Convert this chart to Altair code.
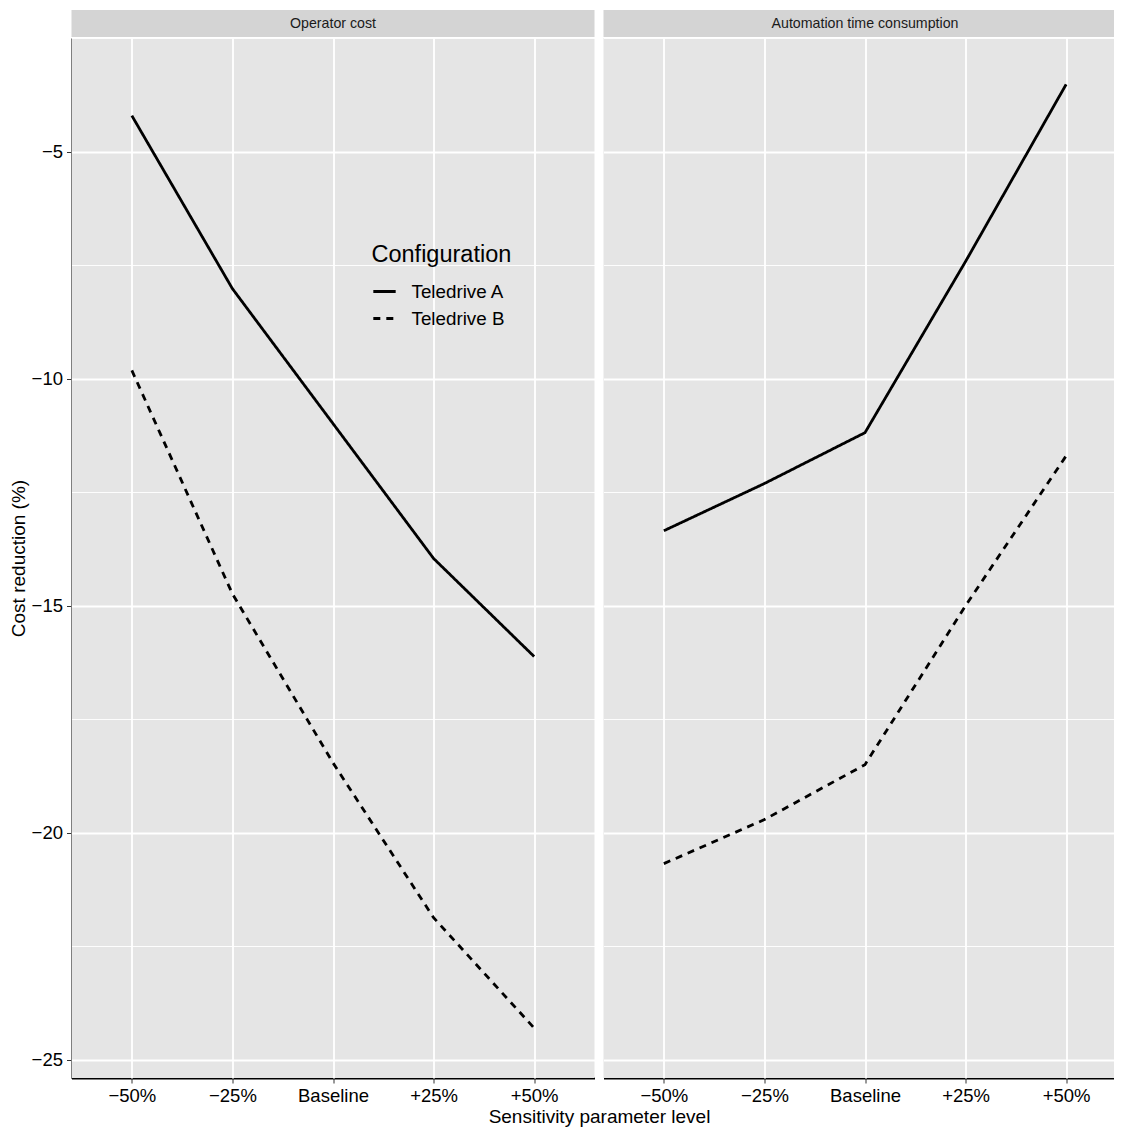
import altair as alt
import pandas as pd

panels = ["Operator cost", "Automation time consumption"]
levels = ["−50%", "−25%", "Baseline", "+25%", "+50%"]
configs = ["Teledrive A", "Teledrive B"]
op_a = [-4.21, -8.02, -10.99, -13.96, -16.12]
op_b = [-9.82, -14.74, -18.46, -21.87, -24.30]
au_a = [-13.35, -12.31, -11.19, -7.42, -3.52]
au_b = [-20.68, -19.71, -18.50, -15.00, -11.70]
y_ticks = [-2.5, -5, -7.5, -10, -12.5, -15, -17.5, -20, -22.5, -25]

rows = []
for panel, series in zip(panels, [(op_a, op_b), (au_a, au_b)]):
    for cfg, vals in zip(configs, series):
        for lvl, v in zip(levels, vals):
            rows.append({"panel": panel, "config": cfg, "level": lvl, "value": v})
df = pd.DataFrame(rows)

FONT = "Liberation Sans"

x_enc = alt.X("level:N", sort=levels,
              scale=alt.Scale(type="point", padding=0.6),
              axis=alt.Axis(title=None, labelFontSize=18.5, labelPadding=3,
                            labelAlign="center", labelBaseline="top",
                            tickSize=5, tickColor="#333333",
                            domainColor="black", domainWidth=1.8,
                            grid=True, gridColor="white", gridWidth=1.8, labelAngle=0))
y_enc = alt.Y("value:Q",
              scale=alt.Scale(domain=[-25.4, -2.5], nice=False, zero=False),
              axis=alt.Axis(title="Cost reduction (%)", values=y_ticks,
                            titleFontSize=19, titleFontWeight="normal", titlePadding=3,
                            labelFontSize=18.5, labelPadding=4,
                            labelExpr="datum.value % 5 === 0 ? replace(datum.label, '-', '\u2212') : ''",
                            tickSize=5, tickColor="#333333",
                            tickOpacity={"condition": {"test": "datum.value % 5 === 0", "value": 1}, "value": 0},
                            domainColor="black", domainWidth=1.8,
                            gridColor="white",
                            gridWidth={"condition": {"test": "datum.value % 5 === 0", "value": 1.8}, "value": 0.9}))

one_row = "datum.level === 'Baseline' && datum.config === 'Teledrive A'"

strip = alt.Chart().mark_rect(color="#D4D4D4").encode(
    x=alt.value(0), x2=alt.value("width"),
    y=alt.value(-28), y2=alt.value(-1),
).transform_filter(one_row)

strip_text = alt.Chart().mark_text(fontSize=14.2, color="#1A1A1A", font=FONT,
                                   baseline="middle", align="center").encode(
    x=alt.X("level:N", sort=levels, scale=alt.Scale(type="point", padding=0.6)),
    y=alt.value(-14),
    text="panel:N",
).transform_filter(one_row)

lines = alt.Chart().mark_line(strokeWidth=2.8, color="black").encode(
    x=x_enc,
    y=y_enc,
    strokeDash=alt.StrokeDash("config:N",
                              scale=alt.Scale(domain=configs, range=[[1, 0], [7, 6]]),
                              legend=alt.Legend(title="Configuration", orient="none",
                                                legendX=300, legendY=205,
                                                titleFontSize=23.5, titleFontWeight="normal",
                                                titleColor="black", titlePadding=12,
                                                labelFontSize=18.8, labelColor="black",
                                                labelOffset=14, rowPadding=4,
                                                symbolType="stroke", symbolSize=500,
                                                symbolStrokeWidth=2.8,
                                                symbolStrokeColor="black")),
)

chart = alt.layer(strip, strip_text, lines, data=df).properties(
    width=523, height=1040
).facet(
    column=alt.Column("panel:N", sort=panels,
                      header=alt.Header(labels=False, title="Sensitivity parameter level",
                                        titleOrient="bottom", titleFontSize=19,
                                        titleFontWeight="normal", titleColor="black",
                                        titleFont=FONT, titlePadding=-7))
).properties(
    spacing=9,
    padding={"left": 0.5, "top": 2, "right": -13, "bottom": 0},
).configure(
    font=FONT
).configure_view(
    fill="#E5E5E5", strokeWidth=0
).configure_axis(
    labelFont=FONT, titleFont=FONT, labelColor="black", titleColor="black"
).configure_legend(
    labelFont=FONT, titleFont=FONT
)

chart.save("out.html", embed_options={"renderer": "svg", "actions": False})
